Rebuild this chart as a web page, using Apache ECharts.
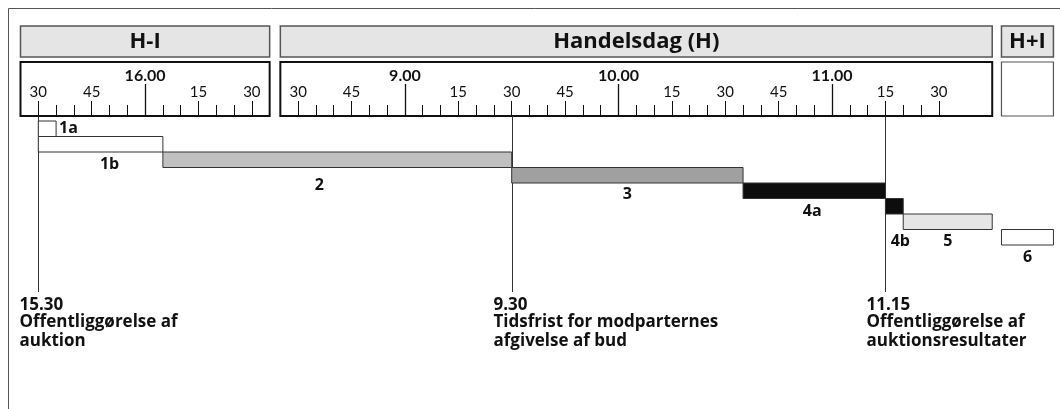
<!DOCTYPE html>
<html><head><meta charset="utf-8">
<script src="https://cdn.jsdelivr.net/npm/echarts@6/dist/echarts.min.js"></script>
<style>html,body{margin:0;padding:0;background:#fff}#c{width:1060px;height:409px}</style>
</head><body><div id="c"></div>
<script>
// ---- data ----
const sessionKeys  = ['H-I', 'H', 'H+I'];
const sessionNames = ['H-I', 'Handelsdag (H)', 'H+I'];
const sessionFrom  = ['15:25', '8:25', null];
const sessionTo    = ['16:35', '11:45', null];
const sessionTickFrom = ['15:30', '8:30', null];
const sessionTickTo   = ['16:30', '11:30', null];
const sessionSpanNoClock = 14.6; // H+I has no clock scale
const sessionGaps = [3, 2.6];

const barIds      = ['1a', '1b', '2', '3', '4a', '4b', '5', '6'];
const barStartDay = ['H-I', 'H-I', 'H-I', 'H', 'H', 'H', 'H', 'H+I'];
const barStart    = ['15:30', '15:30', '16:05', '9:30', '10:35', '11:15', '11:20', 'start'];
const barEndDay   = ['H-I', 'H-I', 'H', 'H', 'H', 'H', 'H', 'H+I'];
const barEnd      = ['15:35', '16:05', '9:30', '10:35', '11:15', '11:20', '11:45', 'end'];
const barRow      = [0, 1, 2, 3, 4, 5, 6, 7];

const markerDay   = ['H-I', 'H', 'H'];
const markerTime  = ['15:30', '9:30', '11:15'];
const markerTitle = ['15.30', '9.30', '11.15'];
const markerText  = ['Offentliggørelse af\nauktion', 'Tidsfrist for modparternes\nafgivelse af bud', 'Offentliggørelse af\nauktionsresultater'];

// ---- styles / layout ----
const FONT = 'Lato, "Open Sans", sans-serif';
const BFONT = '"Open Sans", Lato, sans-serif';
const PX = 3.5594;      // px per minute
const X0 = 20.5;        // left pixel of first session
const barFill   = {'1a':'#ffffff','1b':'#ffffff','2':'#c0c0c0','3':'#a0a0a0','4a':'#0d0d0d','4b':'#0d0d0d','5':'#e6e6e6','6':'#ffffff'};
const labelStyle = {
  '1a': {side:'right', dx: 3, dy: 0},
  '1b': {side:'below', dx: 9, dy: 12},
  '2':  {side:'below', dx: -18, dy: 18},
  '3':  {side:'below', dx: 0, dy: 11},
  '4a': {side:'below', dx: -2, dy: 13},
  '4b': {side:'below', dx: 6, dy: 27},
  '5':  {side:'below', dx: 0, dy: 12},
  '6':  {side:'below', dx: 0, dy: 12}
};

function toMin(t){ const p = t.split(':'); return (+p[0])*60 + (+p[1]); }
function span(s){ return sessionFrom[s] ? toMin(sessionTo[s]) - toMin(sessionFrom[s]) : sessionSpanNoClock; }
function offset(s){ let u = 0; for (let k = 0; k < s; k++) u += span(k) + sessionGaps[k]; return u; }
function toU(day, t){
  const s = sessionKeys.indexOf(day);
  if (t === 'start') return offset(s);
  if (t === 'end') return offset(s) + span(s);
  return offset(s) + toMin(t) - toMin(sessionFrom[s]);
}
const TOTAL = offset(2) + span(2);

const grids = [], xAxes = [], yAxes = [];
function addGrid(g){ grids.push(g); yAxes.push({gridIndex: grids.length-1, type:'value', show:false, min:0, max:1}); return grids.length-1; }

// header boxes
for (let s = 0; s < 3; s++){
  const gi = addGrid({left: X0 + PX*offset(s), width: PX*span(s), top: 26, height: 31, show: true,
    backgroundColor: '#e5e5e5', borderColor: '#555', borderWidth: 1.5});
  xAxes.push({gridIndex: gi, type:'value', show:false, min:0, max:1});
}
// ruler boxes
for (let s = 0; s < 3; s++){
  const clock = !!sessionFrom[s];
  const gi = addGrid({left: X0 + PX*offset(s), width: PX*span(s), top: 62, height: 54, show: true,
    backgroundColor: '#fff', borderColor: clock ? '#111' : '#555', borderWidth: clock ? 2 : 1.2});
  if (!clock){ xAxes.push({gridIndex: gi, type:'value', show:false, min:0, max:1}); continue; }
  const a = toMin(sessionTickFrom[s]), b = toMin(sessionTickTo[s]);
  const minor = [], quarter = [], hour = [];
  for (let m = a; m <= b; m += 5){
    if (m % 60 === 0) hour.push(m); else if (m % 15 === 0) quarter.push(m); else minor.push(m);
  }
  const base = {gridIndex: gi, type:'value', position:'bottom', min: toMin(sessionFrom[s]), max: toMin(sessionTo[s]),
    axisLine:{show:false}, splitLine:{show:false}};
  xAxes.push(Object.assign({}, base, {
    axisTick:{show:true, inside:true, length:11, customValues: minor, lineStyle:{color:'#111', width:1}},
    axisLabel:{show:false}}));
  xAxes.push(Object.assign({}, base, {
    axisTick:{show:true, inside:true, length:15, customValues: quarter, lineStyle:{color:'#111', width:1}},
    axisLabel:{show:true, inside:true, margin:16, customValues: quarter, color:'#111', fontFamily: FONT, fontSize:15,
      formatter: v => String(v % 60)}}));
  xAxes.push(Object.assign({}, base, {
    axisTick:{show:true, inside:true, length:32, customValues: hour, lineStyle:{color:'#111', width:1.3}},
    axisLabel:{show:true, inside:true, margin:32, customValues: hour, color:'#111', fontFamily: FONT, fontSize:16, fontWeight:'bold',
      formatter: v => Math.floor(v/60) + '.00'}}));
}
// bar grid
const barGrid = grids.length;
grids.push({left: X0, width: PX*TOTAL, top: 121, height: 124});
xAxes.push({gridIndex: barGrid, type:'value', show:false, min:0, max:TOTAL});
yAxes.push({gridIndex: barGrid, type:'value', show:false, min:0, max:8, inverse:true});
const barXAxis = xAxes.length-1, barYAxis = yAxes.length-1;

const barData = barIds.map((id, i) => [toU(barStartDay[i], barStart[i]), toU(barEndDay[i], barEnd[i]), barRow[i]]);
const markerData = markerTime.map((t, i) => [toU(markerDay[i], t), 0]);
const headerData = sessionNames.map((n, s) => [offset(s) + span(s)/2, 0]);

const option = {
  animation: false,
  grid: grids, xAxis: xAxes, yAxis: yAxes,
  graphic: [{type:'rect', z:-10, shape:{x:8.5, y:8.5, width:1100, height:500}, style:{fill:'none', stroke:'#555', lineWidth:1}}],
  series: [
    {
      type:'custom', xAxisIndex: barXAxis, yAxisIndex: barYAxis, data: headerData, z: 5,
      renderItem(params, api){
        const p = api.coord([api.value(0), 0]);
        return {type:'text', style:{text: sessionNames[params.dataIndex], x: p[0], y: 42, fill:'#111',
          font: 'bold 22px ' + BFONT, textAlign:'center', textVerticalAlign:'middle'}};
      }
    },
    {
      type:'custom', xAxisIndex: barXAxis, yAxisIndex: barYAxis, data: barData, z: 3,
      renderItem(params, api){
        const i = params.dataIndex, id = barIds[i];
        const p0 = api.coord([api.value(0), api.value(2)]);
        const p1 = api.coord([api.value(1), api.value(2) + 1]);
        const ls = labelStyle[id];
        let tx, ty, ta;
        if (ls.side === 'right'){ tx = p1[0] + ls.dx; ty = (p0[1]+p1[1])/2 + ls.dy; ta = 'left'; }
        else { tx = (p0[0]+p1[0])/2 + ls.dx; ty = p1[1] + ls.dy; ta = 'center'; }
        return {type:'group', children:[
          {type:'rect', shape:{x: p0[0], y: p0[1], width: p1[0]-p0[0], height: p1[1]-p0[1]},
            style:{fill: barFill[id], stroke:'#333', lineWidth:1}},
          {type:'text', style:{text: id, x: tx, y: ty, fill:'#111', font:'bold 16px ' + BFONT, textAlign: ta, textVerticalAlign:'middle'}}
        ]};
      }
    },
    {
      type:'custom', xAxisIndex: barXAxis, yAxisIndex: barYAxis, data: markerData, z: 2, clip: false,
      renderItem(params, api){
        const i = params.dataIndex;
        const p = api.coord([api.value(0), 0]);
        const x = Math.round(p[0]) + 0.5;
        return {type:'group', children:[
          {type:'line', shape:{x1:x, y1:116, x2:x, y2:292}, style:{stroke:'#333', lineWidth:1}},
          {type:'text', style:{text: markerTitle[i], x: x - 19, y: 305, fill:'#111', font:'bold 17px ' + BFONT, textVerticalAlign:'middle'}},
          {type:'text', style:{text: markerText[i], x: x - 19, y: 313, fill:'#111', font:'bold 17px ' + BFONT, lineHeight: 19, textVerticalAlign:'top'}}
        ]};
      }
    }
  ]
};
const chart = echarts.init(document.getElementById('c'), null, {renderer:'canvas'});
chart.setOption(option);
</script></body></html>
